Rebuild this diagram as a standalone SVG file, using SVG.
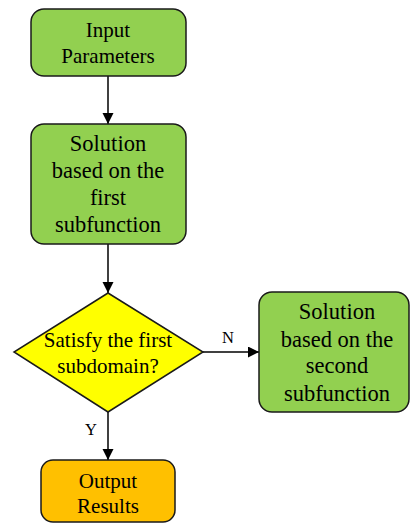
<svg xmlns="http://www.w3.org/2000/svg" width="410" height="523" viewBox="0 0 410 523">
<defs>
<marker id="ah" markerWidth="12" markerHeight="12" refX="11" refY="5.5" orient="auto" markerUnits="userSpaceOnUse">
<path d="M0,0 L11,5.5 L0,11 Z" fill="#000"/>
</marker>
<style>
.box{stroke:#1a1a1a;stroke-width:1.5}
.g{fill:#92D050}
.y{fill:#FFFF00}
.o{fill:#FFC000}
.c{stroke:#000;stroke-width:1.5;fill:none}
</style>
</defs>
<rect width="410" height="523" fill="#fff"/>
<g font-family="'Liberation Serif', 'Times New Roman', serif" fill="#000" text-anchor="middle">
<g id="connectors">
<line class="c" x1="108" y1="76" x2="108" y2="124" marker-end="url(#ah)"/>
<line class="c" x1="108" y1="244" x2="108" y2="293" marker-end="url(#ah)"/>
<line class="c" x1="203" y1="352" x2="259" y2="352" marker-end="url(#ah)"/>
<line class="c" x1="108" y1="412" x2="108" y2="460" marker-end="url(#ah)"/>
<text font-size="16.5" x="228" y="343">N</text>
<text font-size="16.5" x="91" y="435">Y</text>
</g>
<g id="input">
<rect class="box g" x="31" y="9" width="155" height="67" rx="13"/>
<text font-size="21" x="108" y="37">Input</text>
<text font-size="21" x="108" y="63">Parameters</text>
</g>
<g id="sol1">
<rect class="box g" x="31" y="124" width="155" height="120" rx="13"/>
<text font-size="22.5" x="108" y="151">Solution</text>
<text font-size="22.5" x="108" y="178">based on the</text>
<text font-size="22.5" x="108" y="205">first</text>
<text font-size="22.5" x="108" y="232">subfunction</text>
</g>
<g id="decision">
<polygon class="box y" points="108,293 203,352 108,412 14,352"/>
<text font-size="21" x="108" y="347">Satisfy the first</text>
<text font-size="21" x="108" y="373">subdomain?</text>
</g>
<g id="sol2">
<rect class="box g" x="259" y="292" width="150" height="120" rx="13"/>
<text font-size="22.5" x="337" y="319">Solution</text>
<text font-size="22.5" x="337" y="347">based on the</text>
<text font-size="22.5" x="337" y="373">second</text>
<text font-size="22.5" x="337" y="401">subfunction</text>
</g>
<g id="output">
<rect class="box o" x="41" y="460" width="134" height="62" rx="12"/>
<text font-size="21" x="108" y="488">Output</text>
<text font-size="21" x="108" y="513">Results</text>
</g>
</g>
</svg>
